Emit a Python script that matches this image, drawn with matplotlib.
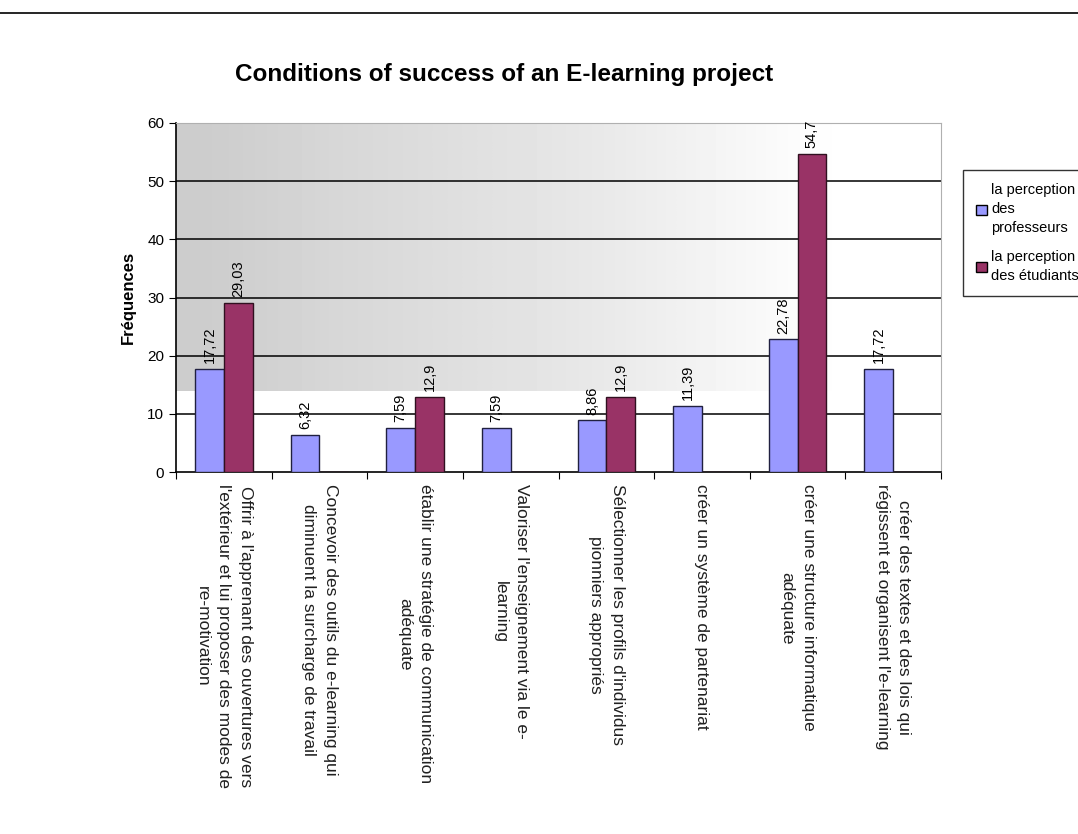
import numpy as np
import matplotlib
matplotlib.use('Agg')
import matplotlib.pyplot as plt
from matplotlib.patches import Patch

plt.rcParams['font.family'] = ['Liberation Sans', 'DejaVu Sans']

# donnees
categories = [
    "Offrir à l'apprenant des ouvertures vers\nl'extérieur et lui proposer des modes de\nre-motivation",
    "Concevoir des outils du e-learning qui\ndiminuent la surcharge de travail",
    "établir une stratégie de communication\nadéquate",
    "Valoriser l'enseignement via le e-\nlearning",
    "Sélectionner les profils d'individus\npionniers appropriés",
    "créer un système de partenariat",
    "créer une structure informatique\nadéquate",
    "créer des textes et des lois qui\nrégissent et organisent l'e-learning",
]
professeurs = [17.72, 6.32, 7.59, 7.59, 8.86, 11.39, 22.78, 17.72]
etudiants = [29.03, None, 12.9, None, 12.9, None, 54.7, None]
series_names = ["la perception\ndes\nprofesseurs", "la perception\ndes étudiants"]

fig = plt.figure(figsize=(10.78, 8.34), dpi=100)
ax = fig.add_axes([176/1078, 1-472/834, (941-176)/1078, (472-123)/834])

# fond gris degrade (effet du scan)
grad = np.ones((2, 10))
grad[0] = [0.80, 0.83, 0.85, 0.87, 0.89, 0.91, 0.94, 0.97, 1.0, 1.0]
grad[1] = grad[0]
ax.imshow(grad, cmap='gray', vmin=0, vmax=1, aspect='auto',
          extent=(-0.5, 7.5, 14, 60), zorder=0, interpolation='bicubic')

x = np.arange(len(categories))
w = 0.3
ax.bar(x - w/2, professeurs, w, color='#9999FF', edgecolor='#202040', linewidth=1, zorder=3)
ev = [v if v is not None else 0 for v in etudiants]
ax.bar(x + w/2, ev, w, color='#993366', edgecolor='#301020', linewidth=1, zorder=3)

for i, v in enumerate(professeurs):
    ax.text(x[i] - w/2, v + 1, str(v).replace('.', ','), rotation=90,
            ha='center', va='bottom', fontsize=10.5, zorder=4)
for i, v in enumerate(etudiants):
    if v is None:
        continue
    ax.text(x[i] + w/2, v + 1, str(v).replace('.', ','), rotation=90,
            ha='center', va='bottom', fontsize=10.5, zorder=4)

ax.set_xlim(-0.5, 7.5)
ax.set_ylim(0, 60)
ax.set_yticks(range(0, 61, 10))
ax.tick_params(axis='y', labelsize=11, length=5, direction='out')
for y in range(10, 60, 10):
    ax.axhline(y, color='black', linewidth=1.1, zorder=1)
ax.set_xticks(np.arange(-0.5, 8, 1))
ax.set_xticklabels([])
ax.tick_params(axis='x', length=5, direction='out')
for s in ['top', 'right']:
    ax.spines[s].set_color('#b0b0b0')
for s in ['left', 'bottom']:
    ax.spines[s].set_linewidth(1.2)

for i, c in enumerate(categories):
    ax.annotate(c, xy=(x[i], 0), xycoords='data', xytext=(0, -9),
                textcoords='offset points', rotation=270, ha='center', va='top',
                multialignment='center', fontsize=12.5, linespacing=1.55,
                color='#202020')

ax.set_ylabel('Fréquences', fontsize=12, fontweight='bold', labelpad=8)

fig.text(504/1078, 1-75/834, 'Conditions of success of an E-learning project',
         ha='center', va='center', fontsize=17.5, fontweight='bold')

# ligne du haut
fig.add_artist(plt.Line2D([0, 1], [1-13/834, 1-13/834], color='black', linewidth=1.2))

handles = [Patch(facecolor='#9999FF', edgecolor='black'),
           Patch(facecolor='#993366', edgecolor='black')]
leg = fig.legend(handles, series_names, loc='upper left',
                 bbox_to_anchor=(956/1078, 1-163/834), fontsize=10.5,
                 handlelength=0.7, handleheight=0.7, handletextpad=0.3,
                 borderpad=0.9, labelspacing=1.0, fancybox=False,
                 frameon=True, edgecolor='black')
leg.get_frame().set_linewidth(1)
for t in leg.get_texts():
    t.set_linespacing(1.45)

fig.savefig('out.png', dpi=100)
